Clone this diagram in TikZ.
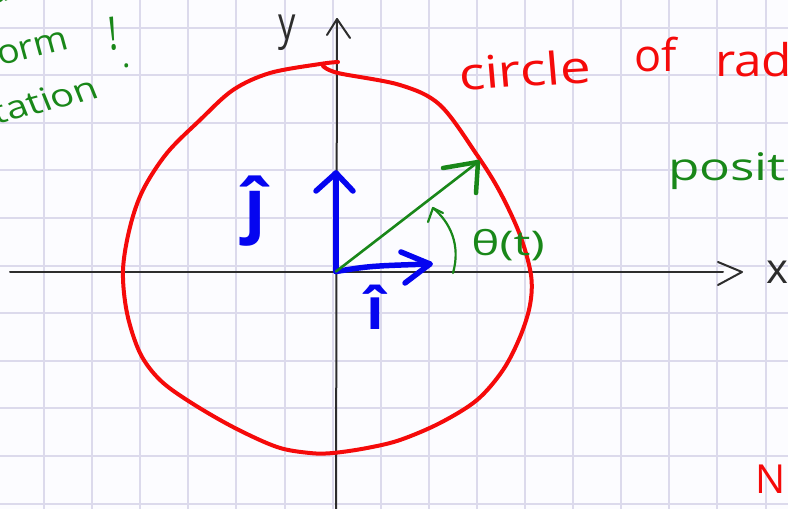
\documentclass[tikz,border=0pt]{standalone}
\usepackage{fontspec}
\setmainfont{Open Sans}
\definecolor{penred}{RGB}{245,10,10}
\definecolor{penblue}{RGB}{5,5,240}
\definecolor{pengreen}{RGB}{25,135,25}
\definecolor{gridlav}{RGB}{220,218,236}
\definecolor{axisgrey}{RGB}{45,45,45}
\begin{document}
\begin{tikzpicture}[x=1pt,y=-1pt,
  gridline/.style={draw=gridlav,line width=2pt},
  axisline/.style={draw=axisgrey,line width=2pt,line cap=round,line join=round},
  redpen/.style={draw=penred,line width=4pt,line cap=round,line join=round},
  bluepen/.style={draw=penblue,line width=5.5pt,line cap=round,line join=round},
  greenpen/.style={draw=pengreen,line width=2.6pt,line cap=round,line join=round},
  greenbarb/.style={draw=pengreen,line width=4.5pt,line cap=round,line join=round},
  greenthin/.style={draw=pengreen,line width=2.2pt,line cap=round,line join=round},
  handtext/.style={inner sep=0pt,outer sep=0pt}]
\useasboundingbox (0,0) rectangle (788,509);
\clip (0,0) rectangle (788,509);
\fill[white!99!blue] (0,0) rectangle (788,509);
% grid
\foreach \i in {0,...,15} \draw[gridline] ({44+48.1*\i},0) -- ({44+48.1*\i},509);
\foreach \j in {0,...,10} \draw[gridline] (0,{27.5+47.6*\j}) -- (788,{27.5+47.6*\j});
% axes
\coordinate (O) at (336,271.5);
\coordinate (xs) at (10,271.5);
\coordinate (xe) at (723,271.5);
\coordinate (xt) at (742,272);
\coordinate (ys) at (336,509);
\coordinate (yt) at (337,19);
\draw[axisline] (xs) -- (xe);
\draw[axisline] (718,262) -- (xt) -- (718,285);
\draw[axisline] (ys) -- (yt);
\draw[axisline] (327,35) -- (yt) -- (350,38);
\node[handtext,font=\fontsize{46}{46}\selectfont,xscale=0.75,text=axisgrey] (ylab) at (287,33) {y};
\node[handtext,font=\fontsize{42}{42}\selectfont,text=axisgrey,anchor=west] (xlab) at (766,272) {x};
% red circle
\draw[redpen] plot[smooth,tension=0.55] coordinates {(323,66) (338,73) (400,85) (440,105) (477,155) (500,192) (520,235) (531,275) (530,305) (520,337) (503,370) (477,400) (440,423) (400,440) (367,448) (333,453) (310,453) (277,447) (233,427) (190,402) (160,380) (140,353) (127,313) (123,270) (130,227) (143,190) (167,153) (200,120) (233,90) (270,73) (320,64) (338,62)};
% blue unit vectors
\coordinate (jt) at (336,173);
\coordinate (it) at (430,264);
\draw[bluepen] (O) -- (jt);
\draw[bluepen] (316,191) -- (jt) -- (353,191);
\draw[bluepen] (O) .. controls (370,266) .. (it);
\draw[bluepen] (401,252) -- (it) -- (405,283);
\node[handtext,font=\fontsize{70}{70}\selectfont\bfseries,text=penblue] (jhat) at (255,211) {ĵ};
\node[handtext,font=\fontsize{58}{58}\selectfont\bfseries,text=penblue] (ihat) at (375,307) {î};
% green position vector
\coordinate (rt) at (478,162);
\draw[greenpen] (O) -- (rt);
\draw[greenbarb] (443,168) -- (rt) -- (476,193);
\coordinate (as) at (453,273);
\coordinate (ae) at (433,208);
\draw[greenthin] (as) .. controls (461,245) and (450,222) .. (ae);
\draw[greenthin] (428,222) -- (ae) -- (443,213);
\node[handtext,font=\fontsize{34}{34}\selectfont,xscale=1.4,text=pengreen] (theta) at (508,245) {θ(t)};
% red text
\node[handtext,font=\fontsize{45}{45}\selectfont,xscale=1.22,text=penred,anchor=base west,rotate=4] (circ) at (460,90) {circle};
\node[handtext,font=\fontsize{45}{45}\selectfont,text=penred,anchor=base west] (of) at (634,71) {of};
\node[handtext,font=\fontsize{45}{45}\selectfont,xscale=1.1,text=penred,anchor=base west] (rad) at (715,76) {rad};
\node[handtext,font=\fontsize{40}{40}\selectfont,text=penred,anchor=base west] (nn) at (755,493) {N};
% green text
\node[handtext,font=\fontsize{38}{38}\selectfont,xscale=1.35,text=pengreen,anchor=base west] (posit) at (668,180) {posit};
\node[handtext,font=\fontsize{34}{34}\selectfont,xscale=1.1,text=pengreen,anchor=base west,rotate=14] (orm) at (0,65) {orm};
\node[handtext,font=\fontsize{46}{46}\selectfont,xscale=0.8,text=pengreen,anchor=base west,rotate=6] (excl) at (109,50) {!};
\node[handtext,font=\fontsize{32}{32}\selectfont,xscale=1.25,text=pengreen,anchor=base west,rotate=18] (tation) at (-3,124) {tation};
\node[handtext,font=\fontsize{32}{32}\selectfont,text=pengreen,anchor=base west] (dot) at (122,67) {.};
\node[handtext,font=\fontsize{32}{32}\selectfont,xscale=1.1,text=pengreen,anchor=base west,rotate=14] (astop) at (-8,4) {as};
\end{tikzpicture}
\end{document}
